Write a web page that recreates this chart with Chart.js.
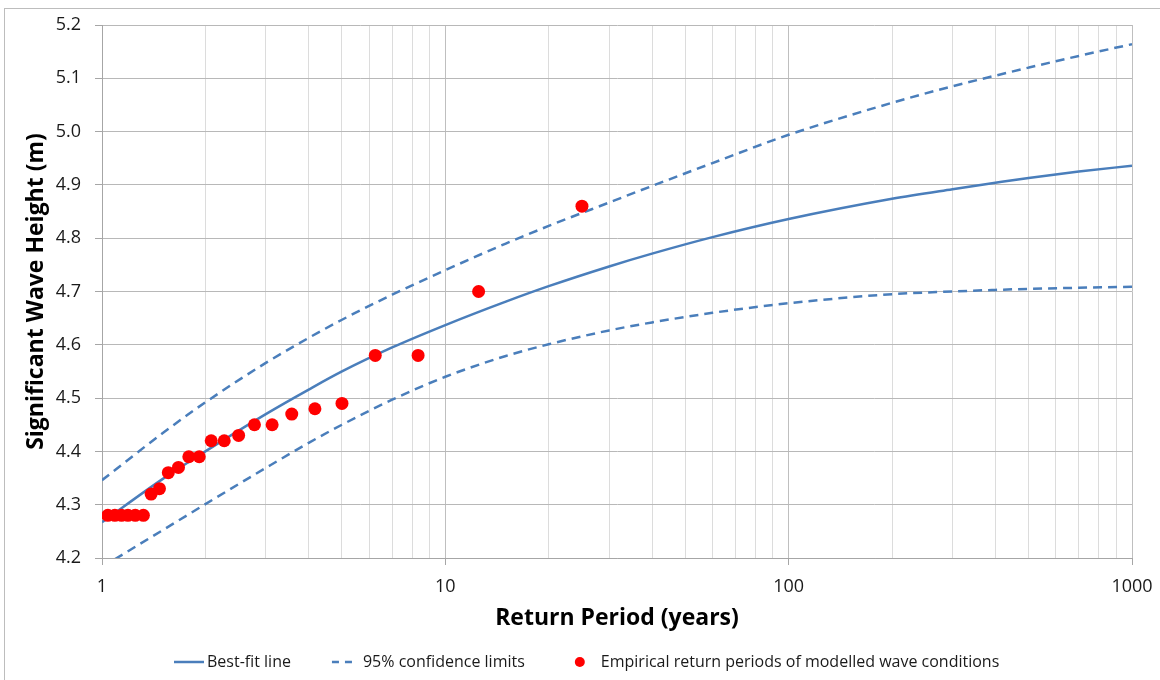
<!DOCTYPE html>
<html><head><meta charset="utf-8">
<script src="https://cdn.jsdelivr.net/npm/chart.js@4.4.1/dist/chart.umd.min.js"></script>
<style>html,body{margin:0;padding:0;background:#fff;overflow:hidden}canvas{display:block}</style>
</head><body>
<canvas id="c" width="1160" height="680"></canvas>
<script>
// ---- data ----
const fitReturnPeriods = [1, 1.5, 2, 3, 4, 5, 7, 10, 15, 20, 30, 40, 60, 100, 200, 300, 400, 500, 700, 1000];
const bestFitHeights   = [4.267, 4.348, 4.400, 4.470, 4.516, 4.550, 4.595, 4.637, 4.681, 4.710, 4.747, 4.771, 4.802, 4.836, 4.874, 4.892, 4.904, 4.913, 4.925, 4.936];
const upperConfHeights = [4.346, 4.434, 4.492, 4.566, 4.613, 4.647, 4.694, 4.740, 4.790, 4.823, 4.867, 4.898, 4.941, 4.994, 5.054, 5.085, 5.105, 5.120, 5.142, 5.164];
const lowerConfHeights = [4.183, 4.252, 4.301, 4.369, 4.416, 4.450, 4.497, 4.540, 4.579, 4.601, 4.627, 4.642, 4.660, 4.678, 4.695, 4.700, 4.703, 4.705, 4.707, 4.709];

const empiricalPeriods = [25, 12.5, 8.33, 6.25, 5, 4.17, 3.57, 3.13, 2.78, 2.5, 2.27, 2.08, 1.92, 1.79, 1.67, 1.56, 1.47, 1.39, 1.32, 1.25, 1.19, 1.14, 1.09, 1.04];
const empiricalHeights = [4.86, 4.70, 4.58, 4.58, 4.49, 4.48, 4.47, 4.45, 4.45, 4.43, 4.42, 4.42, 4.39, 4.39, 4.37, 4.36, 4.33, 4.32, 4.28, 4.28, 4.28, 4.28, 4.28, 4.28];

const xGridValues = [1,2,3,4,5,6,7,8,9,10,20,30,40,50,60,70,80,90,100,200,300,400,500,600,700,800,900,1000];
const xMajorValues = [1, 10, 100, 1000];
const xTickLabels  = ['1', '10', '100', '1000'];

const seriesLabels = ['Best-fit line', '95% confidence limits', 'Empirical return periods of modelled wave conditions'];
const xTitle = 'Return Period (years)';
const yTitle = 'Significant Wave Height (m)';

// ---- style ----
const FONT = "'Open Sans', 'Noto Sans', sans-serif";
const BLUE = '#4a7ebb';
const RED = '#ff0000';
const TEXT = '#1a1a1a';

const toXY = (xs, ys) => xs.map((x, i) => ({x: x, y: ys[i]}));

const framePlugin = {
  id: 'frame',
  beforeDraw(chart) {
    const ctx = chart.ctx;
    ctx.save();
    ctx.fillStyle = '#fff';
    ctx.fillRect(0, 0, chart.width, chart.height);
    ctx.strokeStyle = '#bdbdbd';
    ctx.lineWidth = 1;
    ctx.strokeRect(4.5, 8.5, chart.width + 20, chart.height + 20);
    ctx.restore();
  }
};

const legendPlugin = {
  id: 'customLegend',
  afterDraw(chart) {
    const ctx = chart.ctx;
    const y = 662;
    ctx.save();
    ctx.font = '16px ' + FONT;
    ctx.textBaseline = 'middle';
    ctx.textAlign = 'left';
    ctx.fillStyle = TEXT;
    const w1 = ctx.measureText(seriesLabels[0]).width;
    const w2 = ctx.measureText(seriesLabels[1]).width;
    const w3 = ctx.measureText(seriesLabels[2]).width;
    const total = 30 + 3 + w1 + 41 + 22 + 9 + w2 + 50 + 10 + 16 + w3;
    let x = Math.round(587 - total / 2);
    // solid
    ctx.strokeStyle = BLUE; ctx.lineWidth = 2.5;
    ctx.beginPath(); ctx.moveTo(x, y); ctx.lineTo(x + 30, y); ctx.stroke();
    x += 33;
    ctx.fillText(seriesLabels[0], x, y);
    x += w1 + 41;
    // dashed
    ctx.setLineDash([7, 6]);
    ctx.beginPath(); ctx.moveTo(x, y); ctx.lineTo(x + 22, y); ctx.stroke();
    ctx.setLineDash([]);
    x += 31;
    ctx.fillText(seriesLabels[1], x, y);
    x += w2 + 50;
    // dot
    ctx.fillStyle = RED;
    ctx.beginPath(); ctx.arc(x + 5, y, 5, 0, Math.PI * 2); ctx.fill();
    x += 26;
    ctx.fillStyle = TEXT;
    ctx.fillText(seriesLabels[2], x, y);
    ctx.restore();
  }
};

new Chart(document.getElementById('c'), {
  type: 'line',
  data: {
    datasets: [
      {
        label: seriesLabels[2],
        data: toXY(empiricalPeriods, empiricalHeights),
        showLine: false,
        pointRadius: 6.5,
        pointHoverRadius: 6.5,
        pointBackgroundColor: RED,
        pointBorderWidth: 0,
        borderColor: RED,
        backgroundColor: RED
      },
      {
        label: seriesLabels[0],
        data: toXY(fitReturnPeriods, bestFitHeights),
        borderColor: BLUE,
        borderWidth: 2.5,
        pointRadius: 0,
        cubicInterpolationMode: 'monotone',
        fill: false
      },
      {
        label: seriesLabels[1],
        data: toXY(fitReturnPeriods, upperConfHeights),
        borderColor: BLUE,
        borderWidth: 2.5,
        borderDash: [9, 6],
        pointRadius: 0,
        cubicInterpolationMode: 'monotone',
        fill: false
      },
      {
        label: seriesLabels[1] + ' (lower)',
        data: toXY(fitReturnPeriods, lowerConfHeights),
        borderColor: BLUE,
        borderWidth: 2.5,
        borderDash: [9, 6],
        pointRadius: 0,
        cubicInterpolationMode: 'monotone',
        fill: false
      }
    ]
  },
  options: {
    responsive: false,
    animation: false,
    devicePixelRatio: 1,
    layout: { padding: { top: 25, right: 28, left: 0, bottom: 0 } },
    plugins: {
      legend: { display: false },
      tooltip: { enabled: false }
    },
    scales: {
      x: {
        type: 'logarithmic',
        min: 1,
        max: 1000,
        afterBuildTicks: (s) => { s.ticks = xGridValues.map(v => ({ value: v, major: xMajorValues.includes(v) })); },
        afterFit: (s) => { s.height = 122; s.paddingLeft = 0; s.paddingRight = 0; },
        ticks: {
          autoSkip: false,
          maxRotation: 0,
          minRotation: 0,
          padding: 11,
          color: TEXT,
          font: { family: FONT, size: 18 },
          callback: (v) => { const i = xMajorValues.indexOf(v); return i >= 0 ? xTickLabels[i] : ''; }
        },
        grid: {
          color: (c) => (c.tick && xMajorValues.includes(c.tick.value)) ? '#bfbfbf' : '#dcdcdc',
          tickColor: (c) => (c.tick && xMajorValues.includes(c.tick.value)) ? '#a6a6a6' : 'rgba(0,0,0,0)',
          tickLength: 7,
          lineWidth: 1
        },
        border: { color: '#a6a6a6', width: 1 },
        title: {
          display: true,
          text: xTitle,
          color: '#000',
          font: { family: FONT, size: 23, weight: 'bold' },
          padding: { top: 0, bottom: 48 }
        }
      },
      y: {
        min: 4.2,
        max: 5.2,
        afterFit: (s) => { s.width = 102; s.paddingTop = 0; s.paddingBottom = 0; },
        ticks: {
          stepSize: 0.1,
          padding: 14,
          color: TEXT,
          font: { family: FONT, size: 18 },
          callback: (v) => Number(v).toFixed(1)
        },
        grid: { color: '#b8b8b8', tickColor: '#a6a6a6', tickLength: 7, lineWidth: 1 },
        border: { color: '#a6a6a6', width: 1 },
        title: {
          display: true,
          text: yTitle,
          color: '#000',
          font: { family: FONT, size: 23, weight: 'bold' },
          padding: { top: 23, bottom: 0 }
        }
      }
    }
  },
  plugins: [framePlugin, legendPlugin]
});
</script>
</body></html>
